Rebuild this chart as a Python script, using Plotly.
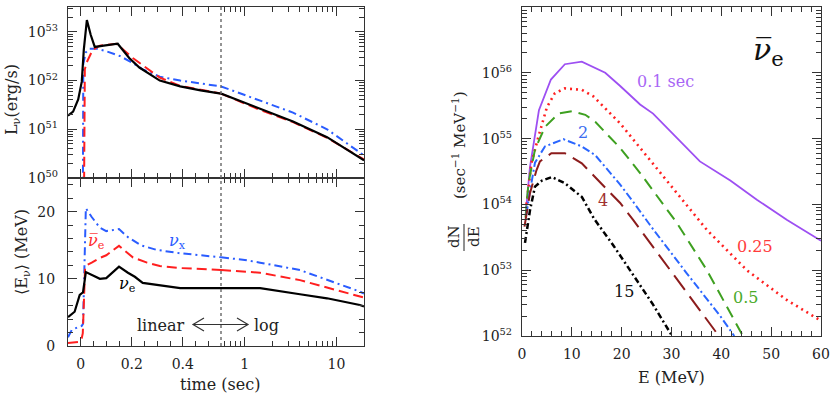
import math
import plotly.graph_objects as go

W, H = 831, 394
FONT = "DejaVu Serif"
SPLIT = 0.55  # time axis is linear below this, log above

# ---- left, top: luminosity (erg/s) ----
t_L_nue = [-0.05, -0.03, -0.01, 0.004, 0.012, 0.024, 0.039, 0.055, 0.09, 0.145, 0.19, 0.23,
           0.31, 0.39, 0.47, 0.55, 1.0, 1.47, 3.36, 7.9, 20]
L_nue = [1.9e51, 2.3e51, 4.1e51, 9.5e51, 4.3e52, 1.75e53, 8.7e52, 4.9e52, 5.2e52, 5.7e52, 2.9e52, 1.85e52,
         1.0e52, 7.6e51, 6.3e51, 5.4e51, 3.5e51, 2.6e51, 1.45e51, 6.9e50, 2.3e50]

t_L_nuebar = [0.012, 0.016, 0.024, 0.047, 0.075, 0.14, 0.204, 0.31, 0.39, 0.47, 0.55, 1.0, 1.47, 3.36, 7.9, 20]
L_nuebar = [1e49, 1.7e52, 2.4e52, 4.3e52, 5.2e52, 5.7e52, 2.9e52, 1.15e52, 7.8e51, 6.4e51, 5.4e51,
            3.4e51, 2.5e51, 1.4e51, 6.7e50, 2.4e50]

t_L_nux = [0.008, 0.01, 0.02, 0.035, 0.063, 0.094, 0.153, 0.204, 0.243, 0.31, 0.39, 0.47, 0.55,
           1.0, 1.47, 3.36, 7.9, 20]
L_nux = [1e49, 2.2e52, 3.8e52, 4.5e52, 4.5e52, 4.1e52, 3.2e52, 2.3e52, 1.7e52, 1.2e52, 1.0e52, 8.7e51,
         7.6e51, 5.1e51, 3.9e51, 2.2e51, 1.0e51, 2.9e50]

# ---- left, bottom: mean energy (MeV) ----
t_E_nue = [-0.05, -0.024, -0.004, 0.009, 0.02, 0.043, 0.075, 0.1, 0.15, 0.185, 0.212, 0.243, 0.298,
           0.39, 0.55, 1.0, 1.47, 4.0, 7.9, 18, 20]
E_nue = [4.3, 5.1, 7.6, 8.0, 11.0, 10.6, 10.0, 10.1, 11.8, 10.9, 10.3, 9.4, 9.1,
         8.6, 8.6, 8.6, 8.6, 7.7, 7.1, 6.1, 5.9]

t_E_nuebar = [-0.05, -0.01, 0.004, 0.008, 0.017, 0.027, 0.043, 0.075, 0.1, 0.15, 0.204, 0.26, 0.31,
              0.39, 0.55, 1.0, 1.47, 4.0, 18, 20]
E_nuebar = [0.45, 0.6, 1.2, 1.9, 11.6, 12.1, 12.4, 13.1, 13.5, 14.9, 13.2, 12.4, 11.9,
            11.6, 11.3, 11.1, 10.9, 9.8, 7.35, 7.2]

t_E_nux = [-0.05, -0.035, -0.01, 0.004, 0.009, 0.02, 0.043, 0.075, 0.1, 0.15, 0.185, 0.235, 0.298,
           0.39, 0.55, 1.0, 1.47, 4.0, 18, 20]
E_nux = [1.3, 2.4, 2.8, 3.0, 3.3, 20.5, 19.2, 17.6, 17.1, 17.4, 16.2, 15.0, 14.3,
         13.8, 13.2, 12.8, 12.4, 11.3, 8.1, 7.8]

# ---- right: anti-nu_e spectra dN/dE at several times ----
E_01 = [0.8, 0.94, 1.6, 3.4, 5.8, 8.6, 12.0, 14.7, 16.7, 19.7, 23.7, 26.3, 35.7, 41.8, 47.2, 53.2, 60]
dN_01 = [8.9e53, 1.05e54, 3.7e54, 2.7e55, 7.9e55, 1.35e56, 1.48e56, 1.17e56, 1.0e56, 6.3e55, 3.3e55,
         2.4e55, 4.5e54, 2.3e54, 1.17e54, 5.8e53, 2.8e53]

E_025 = [0.9, 1.9, 3.3, 5.0, 6.6, 8.6, 12.0, 14.3, 19.7, 23.7, 26.3, 31.7, 37.1, 45.1, 53.2, 60]
dN_025 = [1.0e54, 4.3e54, 1.07e55, 3.0e55, 4.9e55, 5.8e55, 5.5e55, 4.4e55, 1.7e55, 7.2e54, 4.2e54,
          1.3e54, 4.1e53, 1.0e53, 3.5e52, 1.7e52]

E_05 = [0.7, 1.3, 2.6, 4.6, 7.3, 10.0, 12.7, 14.7, 19.7, 23.7, 31.1, 37.1, 44.4]
dN_05 = [6.3e53, 2.1e54, 6.8e54, 1.5e55, 2.4e55, 2.6e55, 2.3e55, 1.8e55, 7.2e54, 3.0e54, 5.2e53,
         1.0e53, 9.8e51]

E_2 = [0.9, 1.3, 2.6, 4.6, 8.3, 12.0, 14.7, 19.7, 22.4, 26.3, 33.1, 39.8, 42.6]
dN_2 = [7.1e53, 1.17e54, 4.3e54, 7.6e54, 9.8e54, 7.6e54, 5.6e54, 2.0e54, 1.07e54, 4.2e53, 8.9e52,
        2.0e52, 1.0e52]

E_4 = [0.5, 1.6, 2.9, 3.6, 5.9, 8.6, 12.0, 14.7, 19.7, 22.3, 28.3, 31.7, 36.4, 39.6]
dN_4 = [4.6e53, 1.48e54, 3.3e54, 4.5e54, 6.0e54, 6.0e54, 4.2e54, 2.6e54, 1.05e54, 5.8e53, 1.4e53,
        6.3e52, 2.1e52, 9.8e51]

E_15 = [0.6, 1.6, 2.6, 4.0, 6.0, 8.6, 12.0, 14.5, 18.3, 21.7, 23.7, 26.3, 30.2]
dN_15 = [2.6e53, 8.1e53, 1.86e54, 2.3e54, 2.6e54, 2.1e54, 1.3e54, 6.0e53, 2.4e53, 1.0e53, 6.0e52,
         3.0e52, 9.8e51]


def px(x):
    return x / W


def py(y):
    return 1 - y / H


fig = go.Figure()


def add_split(t, v, upper, color, dash, width=2.0):
    # one trace on the linear part of the time axis, one on the log part
    xa = ("x", "y", "x2", "y2") if upper else ("x3", "y3", "x4", "y4")
    lin = [(a, b) for a, b in zip(t, v) if a <= SPLIT]
    log = [(a, b) for a, b in zip(t, v) if a >= SPLIT]
    for pts, xr, yr in ((lin, xa[0], xa[1]), (log, xa[2], xa[3])):
        fig.add_trace(go.Scatter(x=[p[0] for p in pts], y=[p[1] for p in pts], mode="lines",
                                 xaxis=xr, yaxis=yr, showlegend=False,
                                 line=dict(color=color, width=width, dash=dash)))


BLACK, RED, BLUE = "#000000", "#ff1f1f", "#2a5cff"
DASH_RED = "10px,5px"
DASH_BLUE = "8px,4px,2px,4px"

add_split(t_L_nux, L_nux, True, BLUE, DASH_BLUE)
add_split(t_L_nuebar, L_nuebar, True, RED, DASH_RED)
add_split(t_L_nue, L_nue, True, BLACK, "solid", 2.2)
add_split(t_E_nux, E_nux, False, BLUE, DASH_BLUE)
add_split(t_E_nuebar, E_nuebar, False, RED, DASH_RED)
add_split(t_E_nue, E_nue, False, BLACK, "solid", 2.2)

spectra = [
    (E_01, dN_01, "#9d4ff2", "solid", 1.8),
    (E_025, dN_025, "#ff2020", "2px,4px", 2.6),
    (E_05, dN_05, "#3ea020", "12px,7px", 2.0),
    (E_2, dN_2, "#2a66ff", "8px,3px,2px,3px", 2.0),
    (E_4, dN_4, "#8c1c1c", "18px,8px", 2.0),
    (E_15, dN_15, "#000000", "6px,3px,2px,3px", 2.5),
]
for e, dn, c, d, w in spectra:
    fig.add_trace(go.Scatter(x=e, y=dn, mode="lines", xaxis="x5", yaxis="y5", showlegend=False,
                             line=dict(color=c, width=w, dash=d)))

# ---- axes ----
minor = dict(ticks="inside", ticklen=5, tickcolor="#333", tickwidth=1, showgrid=False)
base = dict(showline=True, linecolor="#333", linewidth=1.3, ticks="inside", tickcolor="#333",
            tickwidth=1.2, ticklen=9, showgrid=False, zeroline=False, automargin=False,
            tickfont=dict(family=FONT, size=14, color="#222"))

x_lin = (px(68), px(221))
x_log = (px(221), px(364))
y_top = (py(178), py(7))
y_bot = (py(346), py(178))

log_minor_t = [0.6, 0.7, 0.8, 0.9] + list(range(2, 10)) + [20]
L_major = [10.0 ** k for k in range(50, 54)]
L_minor = [m * 10.0 ** k for k in range(50, 54) for m in range(2, 10)]
N_major = [10.0 ** k for k in range(52, 58)]
N_minor = [m * 10.0 ** k for k in range(52, 57) for m in range(2, 10)]

lin_x = dict(base, range=[-0.05, SPLIT], tick0=0, dtick=0.2, mirror="allticks",
             minor=dict(minor, dtick=0.05, tick0=0))
log_x = dict(base, type="log", range=[math.log10(SPLIT), math.log10(20)], tickmode="array",
             tickvals=[1, 10], ticktext=["1", "10"], mirror="allticks",
             minor=dict(minor, tickmode="array", tickvals=log_minor_t))
L_y = dict(base, type="log", range=[50, 53.51], tickmode="array", tickvals=L_major,
           ticktext=["10<sup>%d</sup>" % k for k in range(50, 54)],
           minor=dict(minor, tickmode="array", tickvals=L_minor), ticklabelstandoff=6)
E_y = dict(base, range=[0, 25], tick0=0, dtick=10, minor=dict(minor, dtick=2, tick0=0),
           ticklabelstandoff=9)

fig.update_layout(
    xaxis=dict(lin_x, domain=x_lin, anchor="y", showticklabels=False),
    yaxis=dict(L_y, domain=y_top, anchor="x"),
    xaxis2=dict(log_x, domain=x_log, anchor="y2", showticklabels=False),
    yaxis2=dict(L_y, domain=y_top, anchor="x2", side="right", showticklabels=False),
    xaxis3=dict(lin_x, domain=x_lin, anchor="y3", ticklabelstandoff=5),
    yaxis3=dict(E_y, domain=y_bot, anchor="x3"),
    xaxis4=dict(log_x, domain=x_log, anchor="y4", ticklabelstandoff=5),
    yaxis4=dict(E_y, domain=y_bot, anchor="x4", side="right", showticklabels=False),
    xaxis5=dict(base, domain=(px(522), px(821)), anchor="y5", range=[0, 60], dtick=10, tick0=0,
                mirror="allticks", minor=dict(minor, dtick=2, tick0=0), ticklabelstandoff=5),
    yaxis5=dict(base, domain=(py(336), py(7)), anchor="x5", type="log", range=[52, 57],
                tickmode="array", tickvals=N_major,
                ticktext=["10<sup>%d</sup>" % k for k in range(52, 58)], mirror="allticks",
                minor=dict(minor, tickmode="array", tickvals=N_minor), ticklabelstandoff=6),
    width=W, height=H, autosize=False,
    margin=dict(l=0, r=0, t=0, b=0),
    paper_bgcolor="white", plot_bgcolor="white",
    font=dict(family=FONT, size=14, color="#222"),
    showlegend=False,
)

# linear/log boundary
fig.add_shape(type="line", xref="paper", yref="paper", x0=px(221), x1=px(221), y0=py(346), y1=py(7),
              line=dict(color="#666", width=1.4, dash="3px,3px"))


def note(x, y, text, size=16, color="#222", angle=0, xanchor="center"):
    fig.add_annotation(x=px(x), y=py(y), xref="paper", yref="paper", text=text, showarrow=False,
                       textangle=angle, xanchor=xanchor, yanchor="middle",
                       font=dict(family=FONT, size=size, color=color))


note(12, 100, "L<sub>ν</sub>(erg/s)", angle=-90)
note(22, 252, "⟨E<sub>ν</sub>⟩ (MeV)", angle=-90)
note(220, 384, "time (sec)")
note(671, 377, "E (MeV)")
note(459, 145, "(sec<sup>−1</sup> MeV<sup>−1</sup>)", 15, angle=-90)
note(464, 237, "dN<br>dE", 15, angle=-90)
fig.add_shape(type="line", xref="paper", yref="paper", x0=px(464), x1=px(464), y0=py(224), y1=py(251),
              line=dict(color="#222", width=1))

note(96, 241, "<i>ν̅</i><sub>e</sub>", 16, "#ff2a2a")
note(177, 242, "<i>ν</i><sub>x</sub>", 16, "#2a5cff")
note(127, 284, "<i>ν</i><sub>e</sub>", 16, "#000")
note(187, 325, "linear", 16, xanchor="right")
note(252, 325, "log", 16, xanchor="left")
arrow = "M {a},{b} L {c},{d} L {a},{e} M {c},{d} L {f},{d} M {g},{b} L {f},{d} L {g},{e}".format(
    a=px(204), c=px(193), f=px(248), g=px(237), b=py(318), d=py(324.5), e=py(331))
fig.add_shape(type="path", xref="paper", yref="paper", path=arrow, line=dict(color="#333", width=1.2))

note(665, 81, "0.1 sec", 16, "#a866f5")
note(755, 246, "0.25", 16, "#ff3b3b")
note(745, 297, "0.5", 16, "#4aaa2a")
note(583, 132, "2", 16, "#3b6cf0")
note(603, 200, "4", 16, "#a03030")
note(624, 291, "15", 16, "#111")
note(768, 52, "<i>ν̅</i><sub>e</sub>", 30, "#111")

# the page's default 8px body margin would shift the figure
fig.write_html("out.html", config={"displayModeBar": False},
               post_script="document.body.style.margin='0';"
                           "document.documentElement.style.overflow='hidden';")
